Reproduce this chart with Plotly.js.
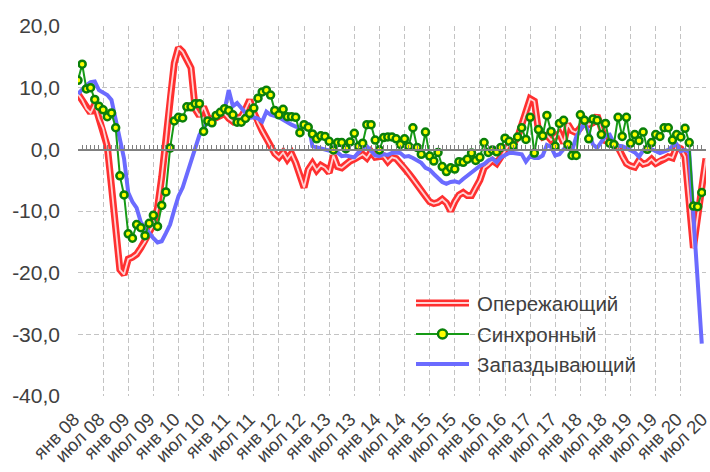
<!DOCTYPE html>
<html>
<head>
<meta charset="utf-8">
<script src="https://cdn.plot.ly/plotly-3.0.1.min.js"></script>
<style>
html,body{margin:0;padding:0;background:#ffffff;}
#chart{width:710px;height:472px;}
</style>
</head>
<body>
<div id="chart"></div>
<script>
// ---------- data (monthly, starting Jan 2008) ----------
const seriesNames = ['Опережающий', 'Синхронный', 'Запаздывающий'];

const leading = [
  9.0, 8.0, 6.6, 5.9, 7.3, 5.0, 3.4, 0.5, -6.0, -13.0,
  -19.5, -20.3, -17.8, -17.5, -17.0, -16.0, -15.0, -13.5, -12.2, -9.5,
  -4.5, 1.5, 8.5, 14.0, 16.5, 15.8, 14.5, 13.2, 6.5, 5.4,
  6.9, 5.2, 4.8, 5.1, 5.6, 5.8, 5.0, 4.5, 5.1, 5.3,
  6.5, 8.0, 6.0, 4.3, 3.0, 1.8, 0.5, -0.7, -1.3, -0.5,
  -1.6, -0.7, -2.2, -4.3, -6.2, -3.3, -2.3, -3.4, -2.6, -3.0,
  -3.8, -1.0, -2.8, -3.0, -2.4, -1.9, -1.6, -1.2, -0.8, -1.4,
  -0.4, -1.3, -1.2, -1.1, -2.0, -1.3, -1.5, -2.2, -3.0, -3.9,
  -4.8, -5.6, -6.7, -7.6, -8.5, -8.8, -8.6, -8.1, -8.7, -10.0,
  -8.5, -7.4, -7.0, -7.5, -7.5, -6.2, -5.0, -3.0, -2.5, -1.8,
  -2.3, -1.4, -0.2, 0.9, 1.0, 1.9, 4.0, 6.0, 8.2, 7.8,
  3.0, 2.0, 2.3, 1.5, 2.0, 2.6, 1.0, 4.1, 3.0, 2.7,
  3.5, 4.8, 4.0, 4.3, 5.5, 3.0, 1.4, 1.2, 1.0, 0.3,
  -1.2, -2.3, -2.7, -2.9, -1.8, -2.4, -2.2, -1.6, -2.3, -1.8,
  -1.6, -1.2, -1.4, 0.4, 0.1, -1.2, -8.0, -16.0, -11.0, -6.3,
  -1.5
];

const coincident = [
  11.2, 13.8, 9.8, 10.0, 8.1, 7.0, 6.4, 5.3, 5.9, 3.5,
  -4.3, -7.4, -13.7, -14.4, -12.2, -12.7, -14.0, -12.0, -10.7, -12.5,
  -9.1, -6.9, 0.2, 4.6, 5.2, 5.1, 6.9, 6.9, 7.4, 7.4,
  2.9, 4.6, 4.3, 5.5, 6.0, 6.6, 6.3, 5.6, 4.4, 4.4,
  5.0, 5.8, 6.7, 8.3, 9.3, 9.6, 8.8, 6.3, 5.6, 6.5,
  5.3, 5.3, 5.2, 2.7, 4.0, 3.6, 2.5, 1.7, 2.2, 2.1,
  1.3, -0.1, 1.1, 1.1, 0.1, 1.2, 2.6, 0.5, 1.0, 4.0,
  4.0, 1.5, -0.1, 1.9, 2.0, 2.0, 1.7, 0.8, 1.7, 0.5,
  3.5, 0.3, -0.8, 2.8, -1.1, -1.9, -0.5, -2.8, -3.6, -3.0,
  -3.2, -2.0, -2.1, -1.6, -0.6, -1.8, -1.3, 1.1, -0.5, -0.1,
  -0.4, 0.3, 1.8, 1.3, 0.6, 2.0, 3.5, 1.6, 5.2, -0.6,
  3.2, 2.2, 5.5, 2.9, 0.5, 4.2, 4.7, 0.8, -1.0, -1.0,
  5.6, 4.7, 1.7, 4.9, 4.7, 2.4, 4.2, 1.0, 0.8, 5.2,
  2.1, 5.2, 1.0, 2.4, 1.4, 2.8, 0.0, 1.1, 2.4, 2.1,
  3.5, 3.5, 1.5, 2.4, 2.0, 3.4, 1.1, -9.2, -9.3, -7.0
];

const lagging = [
  9.0, 9.8, 10.4, 10.9, 11.0, 9.6, 9.2, 8.8, 8.0, 5.0,
  2.0, -1.5, -7.0, -8.5, -9.5, -11.8, -12.7, -13.6, -14.4, -15.1,
  -14.9, -13.6, -12.2, -9.8, -7.6, -6.2, -4.1, -2.0, 0.0, 2.3,
  3.5, 4.3, 4.8, 5.3, 5.8, 6.3, 9.6, 7.0, 7.5, 6.7,
  6.0, 5.1, 5.2, 5.0, 4.5, 6.1, 5.6, 5.4, 5.2, 4.8,
  4.3, 4.0, 3.7, 3.5, 3.6, 4.3, 0.5, 0.3, 0.1, 0.0,
  -0.3, -0.4, -0.5, -1.1, -1.0, -1.2, -1.3, -0.5, 0.3, 0.5,
  -0.3, -1.0, -1.1, -0.8, -0.9, -0.6, -0.5, -0.6, -1.2, -1.1,
  -1.4, -1.8, -2.2, -3.0, -3.3, -4.0, -4.6, -5.3, -5.6, -5.3,
  -5.2, -5.4, -4.8, -4.3, -3.6, -3.1, -2.7, -2.4, -1.8, -1.5,
  -2.1, -1.3, -0.9, -0.6, -0.6, -0.7, -0.8, -2.0, -1.1, -1.4,
  -1.4, -1.0, 0.7, 0.4, -1.0, -0.8, 0.0, 0.2, -0.3, 2.0,
  3.2, 4.3, 2.7, 0.8, 0.2, 1.3, 2.2, 2.4, 1.0, 0.6,
  0.5, 0.2, -0.2, -0.5, -1.2, -0.2, 0.4, 0.0, -0.3, -0.6,
  -0.4, -0.1, 0.5, 0.8, -0.3, -0.1, -0.4, -10.5, -21.0, -31.5
];

const xTickLabels = [
  'янв 08', 'июл 08', 'янв 09', 'июл 09', 'янв 10', 'июл 10', 'янв 11', 'июл 11',
  'янв 12', 'июл 12', 'янв 13', 'июл 13', 'янв 14', 'июл 14', 'янв 15', 'июл 15',
  'янв 16', 'июл 16', 'янв 17', 'июл 17', 'янв 18', 'июл 18', 'янв 19', 'июл 19',
  'янв 20', 'июл 20'
];
const yTickValues = [-40, -30, -20, -10, 0, 10, 20];
const yTickLabels = ['-40,0', '-30,0', '-20,0', '-10,0', '0,0', '10,0', '20,0'];

// ---------- layout helpers ----------
const W = 710, H = 472;
const M = {l: 78, r: 4, t: 26, b: 76};
const FONT = '"Liberation Sans", Arial, sans-serif';
const TXT = '#404040';
const RED = '#ff3030', RED_IN = '#ffd4d4';
const GREEN = '#169a16', GREEN_DARK = '#0a800a', YELLOW = '#ffff00';
const BLUE = '#6b6bff';
const GRID = '#c3c3c3';

const idx = arr => arr.map((_, i) => i);
const monthsSpan = (xTickLabels.length - 1) * 6;

function pxX(x) { return (x - M.l) / (W - M.l - M.r); }
function pxY(y) { return (H - M.b - y) / (H - M.t - M.b); }

const traces = [
  {x: idx(leading), y: leading, name: seriesNames[0], type: 'scatter', mode: 'lines',
   line: {color: RED, width: 7}, showlegend: false},
  {x: idx(leading), y: leading, name: seriesNames[0], type: 'scatter', mode: 'lines',
   line: {color: RED_IN, width: 1.8}, showlegend: false, hoverinfo: 'skip'},
  {x: idx(lagging), y: lagging, name: seriesNames[2], type: 'scatter', mode: 'lines',
   line: {color: BLUE, width: 4}, showlegend: false},
  {x: idx(coincident), y: coincident, name: seriesNames[1], type: 'scatter', mode: 'lines+markers',
   line: {color: GREEN, width: 2},
   marker: {symbol: 'circle', size: 7, color: YELLOW, line: {color: GREEN_DARK, width: 2.5}},
   showlegend: false},
  // carrier for the axis line drawn at zero
  {x: [0, monthsSpan], y: [null, null], xaxis: 'x2', yaxis: 'y', type: 'scatter', mode: 'lines',
   showlegend: false, hoverinfo: 'skip'}
];

// manual legend
const legendRows = [pxY(303), pxY(334), pxY(364)];
const lx0 = pxX(416), lx1 = pxX(469), ltx = pxX(475);
const shapes = [
  {type: 'line', xref: 'paper', yref: 'paper', x0: lx0, x1: lx1, y0: legendRows[0], y1: legendRows[0],
   line: {color: RED, width: 7}},
  {type: 'line', xref: 'paper', yref: 'paper', x0: lx0, x1: lx1, y0: legendRows[0], y1: legendRows[0],
   line: {color: RED_IN, width: 1.8}},
  {type: 'line', xref: 'paper', yref: 'paper', x0: lx0, x1: lx1, y0: legendRows[1], y1: legendRows[1],
   line: {color: GREEN, width: 2}},
  {type: 'circle', xref: 'paper', yref: 'paper', x0: pxX(438), x1: pxX(447), y0: pxY(338.5), y1: pxY(329.5),
   fillcolor: YELLOW, line: {color: GREEN_DARK, width: 2.5}},
  {type: 'line', xref: 'paper', yref: 'paper', x0: lx0, x1: lx1, y0: legendRows[2], y1: legendRows[2],
   line: {color: BLUE, width: 4}}
];
const annotations = seriesNames.map((n, k) => ({
  text: n, xref: 'paper', yref: 'paper', x: ltx, y: legendRows[k],
  xanchor: 'left', yanchor: 'middle', showarrow: false,
  font: {family: FONT, size: 20.5, color: TXT}
}));

const layout = {
  width: W, height: H,
  margin: M,
  paper_bgcolor: '#ffffff', plot_bgcolor: '#ffffff',
  font: {family: FONT, color: TXT},
  showlegend: false,
  xaxis: {
    range: [0, monthsSpan + 0.01],
    tickvals: xTickLabels.map((_, k) => k * 6),
    ticktext: xTickLabels,
    tickangle: -45,
    tickfont: {family: FONT, size: 18.5, color: TXT},
    ticklabelstandoff: 8,
    ticklabelshift: -4,
    ticklabeloverflow: 'allow',
    showgrid: true, gridcolor: GRID, gridwidth: 1, griddash: '5px,3px',
    zeroline: false, showline: false, ticks: ''
  },
  xaxis2: {
    overlaying: 'x', anchor: 'free', position: 40 / 60,
    range: [0, monthsSpan + 0.01],
    showgrid: false, zeroline: false, showticklabels: false,
    showline: true, linecolor: '#808080', linewidth: 1.6,
    ticks: 'inside', ticklen: 4, tickwidth: 1, tickcolor: '#808080',
    tick0: 0, dtick: 1
  },
  yaxis: {
    range: [-40, 20],
    tickvals: yTickValues, ticktext: yTickLabels,
    tickfont: {family: FONT, size: 21, color: TXT},
    showgrid: true, gridcolor: GRID, gridwidth: 1, griddash: '5px,3px',
    zeroline: false, showline: false, ticks: '',
    ticklabelstandoff: 17
  },
  shapes: shapes,
  annotations: annotations
};

Plotly.newPlot('chart', traces, layout, {staticPlot: true, displayModeBar: false});
</script>
</body>
</html>
